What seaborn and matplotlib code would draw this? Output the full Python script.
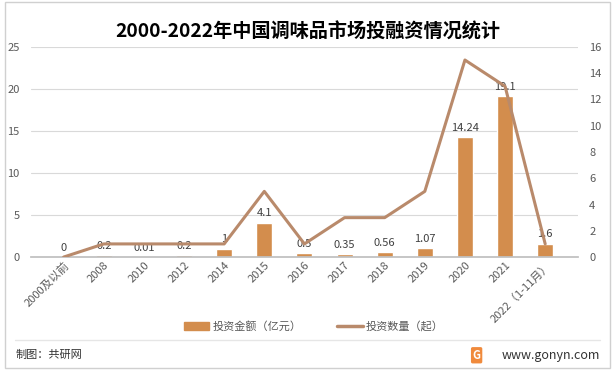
import numpy as np
import pandas as pd
import seaborn as sns
import matplotlib.pyplot as plt
from matplotlib.patches import Patch, Rectangle
from matplotlib.lines import Line2D

years = ["2000及以前", "2008", "2010", "2012", "2014", "2015", "2016",
         "2017", "2018", "2019", "2020", "2021", "2022（1-11月）"]
amount = [0, 0.2, 0.01, 0.2, 1, 4.1, 0.5, 0.35, 0.56, 1.07, 14.24, 19.1, 1.6]
amount_labels = ["0", "0.2", "0.01", "0.2", "1", "4.1", "0.5", "0.35", "0.56",
                 "1.07", "14.24", "19.1", "1.6"]
count = [0, 1, 1, 1, 1, 5, 1, 3, 3, 5, 15, 13, 1]

data = pd.DataFrame({"year": years, "amount": amount, "count": count})

sns.set_theme(style="white")
plt.rcParams['font.family'] = ['Noto Sans CJK SC', 'DejaVu Sans']

bar_color = "#D38D4D"
line_color = "#B98A6B"
text_color = "#595959"

fig, ax = plt.subplots(figsize=(6.15, 3.72), dpi=100)
fig.subplots_adjust(left=0.05, right=0.94, top=0.874, bottom=0.309)

sns.barplot(data=data, x="year", y="amount", color=bar_color, width=0.4,
            saturation=1, ax=ax)
ax.bar_label(ax.containers[0], labels=amount_labels, padding=3,
             fontsize=8, color="#404040")
ax.set_ylim(0, 25)
ax.set_yticks([0, 5, 10, 15, 20, 25])
ax.set_xlabel("")
ax.set_ylabel("")
ax.yaxis.grid(True, color="#D9D9D9", linewidth=0.8)
ax.set_axisbelow(True)
for s in ["top", "right", "left"]:
    ax.spines[s].set_visible(False)
ax.spines["bottom"].set_color("#BFBFBF")
ax.tick_params(axis="y", labelsize=8, labelcolor=text_color, length=0, pad=8)
ax.tick_params(axis="x", labelsize=8, labelcolor=text_color, length=0, pad=2)
plt.setp(ax.get_xticklabels(), rotation=45, ha="right", rotation_mode="anchor")

ax2 = ax.twinx()
sns.lineplot(x=np.arange(len(years)), y=count, color=line_color, linewidth=2.2,
             ax=ax2)
ax2.set_ylim(0, 16)
ax2.set_yticks(range(0, 17, 2))
ax2.tick_params(axis="y", labelsize=8, labelcolor=text_color, length=0, pad=8)
for s in ["top", "right", "left", "bottom"]:
    ax2.spines[s].set_visible(False)
ax2.set_ylabel("")

fig.suptitle("2000-2022年中国调味品市场投融资情况统计", fontsize=13.8,
             fontweight="bold", y=0.94, color="#000000")

handles = [Patch(color=bar_color, label="投资金额（亿元）"),
           Line2D([0], [0], color=line_color, linewidth=2.5, label="投资数量（起）")]
fig.legend(handles=handles, loc="center", bbox_to_anchor=(0.51, 0.122), ncol=2,
           frameon=False, fontsize=8, handlelength=2.3, handletextpad=0.3,
           columnspacing=3.2, labelcolor=text_color)

fig.add_artist(Line2D([0.025, 0.975], [0.087, 0.087], color="#E6E6E6",
                      linewidth=1, transform=fig.transFigure))
fig.add_artist(Rectangle((0.008, 0.01), 0.984, 0.985, fill=False,
                         edgecolor="#D0D0D0", linewidth=1,
                         transform=fig.transFigure))
fig.text(0.025, 0.045, "制图：共研网", fontsize=8, color="#333333",
         va="center")
fig.text(0.775, 0.045, "G", fontsize=8, color="white", fontweight="bold",
         va="center", ha="center",
         bbox=dict(boxstyle="round,pad=0.15", fc="#F08A3C", ec="none"))
fig.text(0.975, 0.045, "www.gonyn.com", fontsize=9, color="#333333",
         va="center", ha="right")

plt.savefig("out.png", dpi=100)
